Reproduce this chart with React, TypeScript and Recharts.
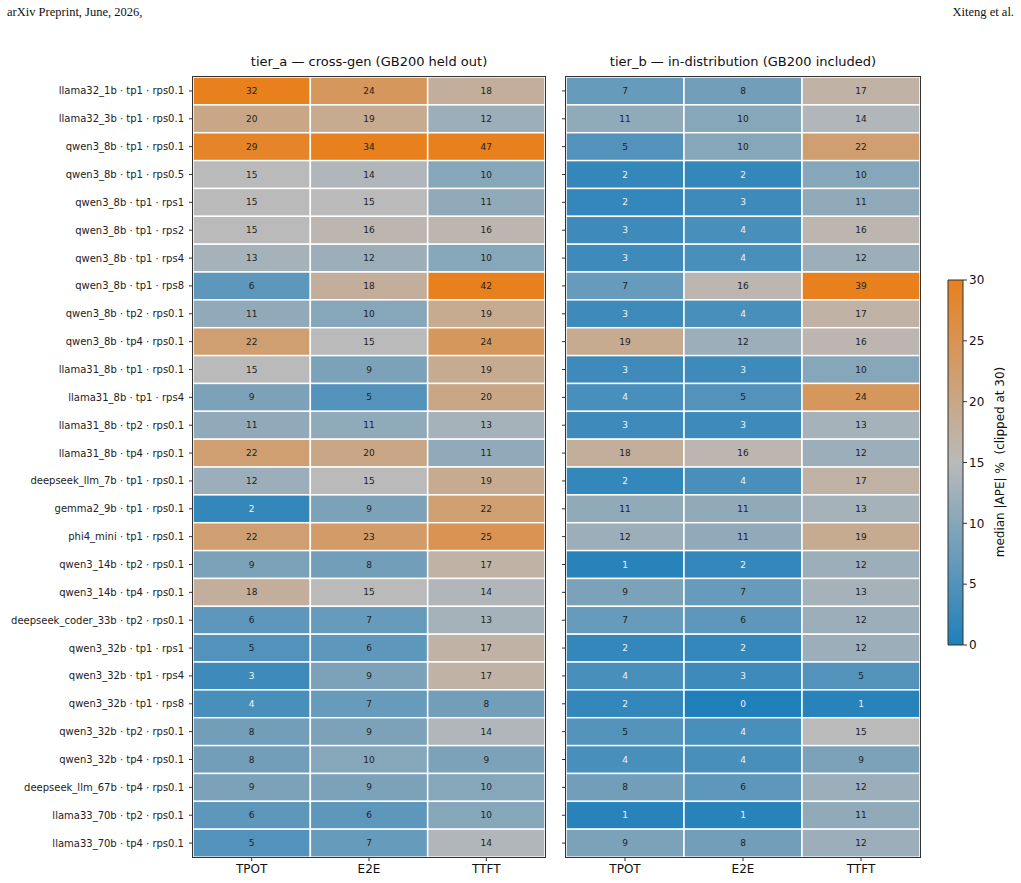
// App.tsx
import React from 'react';
import { BarChart, Bar, XAxis, YAxis } from 'recharts';

const rowLabels = [
  'llama32_1b · tp1 · rps0.1',
  'llama32_3b · tp1 · rps0.1',
  'qwen3_8b · tp1 · rps0.1',
  'qwen3_8b · tp1 · rps0.5',
  'qwen3_8b · tp1 · rps1',
  'qwen3_8b · tp1 · rps2',
  'qwen3_8b · tp1 · rps4',
  'qwen3_8b · tp1 · rps8',
  'qwen3_8b · tp2 · rps0.1',
  'qwen3_8b · tp4 · rps0.1',
  'llama31_8b · tp1 · rps0.1',
  'llama31_8b · tp1 · rps4',
  'llama31_8b · tp2 · rps0.1',
  'llama31_8b · tp4 · rps0.1',
  'deepseek_llm_7b · tp1 · rps0.1',
  'gemma2_9b · tp1 · rps0.1',
  'phi4_mini · tp1 · rps0.1',
  'qwen3_14b · tp2 · rps0.1',
  'qwen3_14b · tp4 · rps0.1',
  'deepseek_coder_33b · tp2 · rps0.1',
  'qwen3_32b · tp1 · rps1',
  'qwen3_32b · tp1 · rps4',
  'qwen3_32b · tp1 · rps8',
  'qwen3_32b · tp2 · rps0.1',
  'qwen3_32b · tp4 · rps0.1',
  'deepseek_llm_67b · tp4 · rps0.1',
  'llama33_70b · tp2 · rps0.1',
  'llama33_70b · tp4 · rps0.1',
];

const metrics = ['TPOT', 'E2E', 'TTFT'];

// tier_a — cross-gen (GB200 held out)
const tierA_TPOT = [32, 20, 29, 15, 15, 15, 13, 6, 11, 22, 15, 9, 11, 22, 12, 2, 22, 9, 18, 6, 5, 3, 4, 8, 8, 9, 6, 5];
const tierA_E2E = [24, 19, 34, 14, 15, 16, 12, 18, 10, 15, 9, 5, 11, 20, 15, 9, 23, 8, 15, 7, 6, 9, 7, 9, 10, 9, 6, 7];
const tierA_TTFT = [18, 12, 47, 10, 11, 16, 10, 42, 19, 24, 19, 20, 13, 11, 19, 22, 25, 17, 14, 13, 17, 17, 8, 14, 9, 10, 10, 14];

// tier_b — in-distribution (GB200 included)
const tierB_TPOT = [7, 11, 5, 2, 2, 3, 3, 7, 3, 19, 3, 4, 3, 18, 2, 11, 12, 1, 9, 7, 2, 4, 2, 5, 4, 8, 1, 9];
const tierB_E2E = [8, 10, 10, 2, 3, 4, 4, 16, 4, 12, 3, 5, 3, 16, 4, 11, 11, 2, 7, 6, 2, 3, 0, 4, 4, 6, 1, 8];
const tierB_TTFT = [17, 14, 22, 10, 11, 16, 12, 39, 17, 16, 10, 24, 13, 12, 17, 13, 19, 12, 13, 12, 12, 5, 1, 15, 9, 12, 11, 12];

const cbarTicks = [0, 5, 10, 15, 20, 25, 30];
const clipMax = 30;

const FONT = '"DejaVu Sans", sans-serif';

const stops: [number, number[]][] = [
  [0, [31, 127, 187]],
  [0.5, [186, 186, 186]],
  [1, [232, 128, 30]],
];

function colorFor(v: number) {
  const t = Math.min(Math.max(v, 0), clipMax) / clipMax;
  for (let i = 0; i < stops.length - 1; i++) {
    const [t0, c0] = stops[i];
    const [t1, c1] = stops[i + 1];
    if (t <= t1) {
      const f = (t - t0) / (t1 - t0);
      const c = c0.map((a, k) => Math.round(a + (c1[k] - a) * f));
      return `rgb(${c[0]},${c[1]},${c[2]})`;
    }
  }
  return 'rgb(232,128,30)';
}

const cellShape = (vals: number[]) => (props: any) => {
  const { x, y, width, height, index } = props;
  const v = vals[index];
  return (
    <g>
      <rect x={x} y={y} width={width} height={height} fill={colorFor(v)} stroke="#fff" strokeWidth={1.5} />
      <text
        x={x + width / 2}
        y={y + height / 2}
        textAnchor="middle"
        dominantBaseline="central"
        fontSize={9}
        fontFamily={FONT}
        fill={v < 5 ? '#eef3f8' : '#222'}
      >
        {Math.round(v)}
      </text>
    </g>
  );
};

// plain one-line tick, no wrapping
const RowTick = (show: boolean) => (props: any) => {
  const { x, y, payload } = props;
  if (!show) return <g />;
  return (
    <text x={x} y={y} textAnchor="end" dominantBaseline="central" fontSize={10} fontFamily={FONT} fill="#222">
      {payload.value}
    </text>
  );
};

interface PanelProps {
  cols: number[][];
  showLabels: boolean;
  width: number;
  yAxisWidth: number;
  right: number;
}

const HeatPanel: React.FC<PanelProps> = ({ cols, showLabels, width, yAxisWidth, right }) => {
  const data = rowLabels.map((name) => ({ name, w0: 1, w1: 1, w2: 1 }));
  return (
    <BarChart
      width={width}
      height={883}
      data={data}
      layout="vertical"
      barCategoryGap={0}
      barGap={0}
      margin={{ top: 77, right, bottom: 0, left: 0 }}
    >
      <XAxis
        type="number"
        domain={[0, 3]}
        ticks={[0.5, 1.5, 2.5]}
        tickFormatter={(t: number) => metrics[Math.floor(t)]}
        height={26}
        axisLine={false}
        tickSize={4}
        tickMargin={3}
        tickLine={{ stroke: '#333' }}
        tick={{ fontSize: 12, fill: '#111', fontFamily: FONT }}
      />
      <YAxis
        type="category"
        dataKey="name"
        width={yAxisWidth}
        axisLine={false}
        tickSize={4}
        tickMargin={5}
        tickLine={{ stroke: '#333' }}
        interval={0}
        tick={RowTick(showLabels)}
      />
      {cols.map((vals, i) => (
        <Bar key={i} dataKey={`w${i}`} stackId="s" isAnimationActive={false} shape={cellShape(vals)} />
      ))}
    </BarChart>
  );
};

const frame = (left: number, top: number, w: number, h: number): React.CSSProperties => ({
  position: 'absolute',
  left,
  top,
  width: w,
  height: h,
  boxSizing: 'border-box',
  border: '1px solid #333',
  pointerEvents: 'none',
});

const titleStyle = (cx: number): React.CSSProperties => ({
  position: 'absolute',
  left: cx,
  top: 54,
  transform: 'translateX(-50%)',
  whiteSpace: 'nowrap',
  fontFamily: FONT,
  fontSize: 13,
  color: '#111',
});

const App: React.FC = () => {
  return (
    <div style={{ position: 'absolute', left: 0, top: 0, width: 1021, height: 883, background: '#fff', overflow: 'hidden' }}>
      <div style={{ position: 'absolute', left: 7, top: 5, fontFamily: '"Liberation Serif", serif', fontSize: 12.5, color: '#111' }}>
        arXiv Preprint, June, 2026,
      </div>
      <div style={{ position: 'absolute', right: 7, top: 5, fontFamily: '"Liberation Serif", serif', fontSize: 12.5, color: '#111' }}>
        Xiteng et al.
      </div>

      <div style={titleStyle(369)}>tier_a — cross-gen (GB200 held out)</div>
      <div style={titleStyle(743)}>tier_b — in-distribution (GB200 included)</div>

      <div style={{ position: 'absolute', left: 0, top: 0 }}>
        <HeatPanel cols={[tierA_TPOT, tierA_E2E, tierA_TTFT]} showLabels width={560} yAxisWidth={193} right={15} />
      </div>
      <div style={frame(192, 76, 354, 782)} />

      <div style={{ position: 'absolute', left: 556, top: 0 }}>
        <HeatPanel cols={[tierB_TPOT, tierB_E2E, tierB_TTFT]} showLabels={false} width={380} yAxisWidth={10} right={16} />
      </div>
      <div style={frame(565, 76, 356, 782)} />

      <div style={{ position: 'absolute', left: 940, top: 0 }}>
        <BarChart
          width={81}
          height={883}
          data={[{ name: 'cbar', v: clipMax }]}
          barCategoryGap={0}
          margin={{ top: 280, right: 0, bottom: 238, left: 8 }}
        >
          <defs>
            <linearGradient id="cbGrad" x1="0" y1="1" x2="0" y2="0">
              {stops.map(([t, c]) => (
                <stop key={t} offset={`${t * 100}%`} stopColor={`rgb(${c[0]},${c[1]},${c[2]})`} />
              ))}
            </linearGradient>
          </defs>
          <XAxis dataKey="name" hide />
          <YAxis
            type="number"
            orientation="right"
            domain={[0, clipMax]}
            ticks={cbarTicks}
            width={58}
            axisLine={false}
            tickSize={4}
            tickLine={{ stroke: '#333' }}
            tick={{ fontSize: 12, fill: '#111', fontFamily: FONT }}
          />
          <Bar dataKey="v" fill="url(#cbGrad)" stroke="#333" strokeWidth={1} isAnimationActive={false} />
        </BarChart>
      </div>
      <div
        style={{
          position: 'absolute',
          left: 1000,
          top: 462,
          transform: 'translate(-50%, -50%) rotate(-90deg)',
          whiteSpace: 'pre',
          fontFamily: FONT,
          fontSize: 12,
          color: '#111',
        }}
      >
        median |APE| %  (clipped at 30)
      </div>
    </div>
  );
};

export default App;
